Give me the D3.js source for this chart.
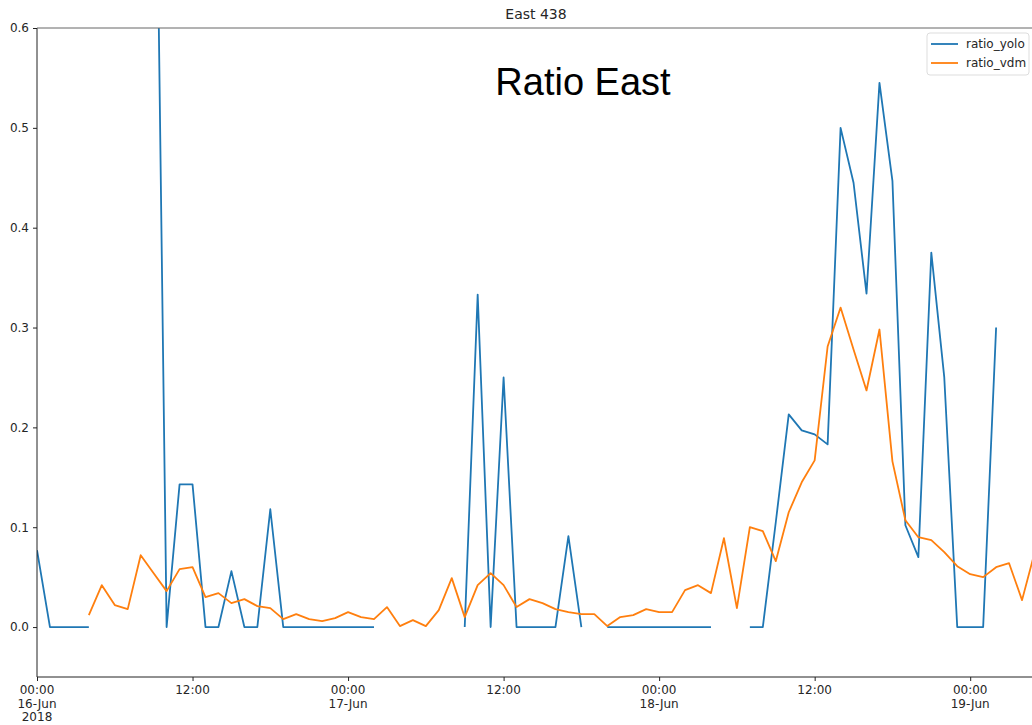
<!DOCTYPE html>
<html>
<head>
<meta charset="utf-8">
<script src="https://cdn.jsdelivr.net/npm/d3@7"></script>
<style>
  body { margin: 0; background: #fff; }
  text { font-family: "DejaVu Sans", sans-serif; }
</style>
</head>
<body>
<div id="chart"></div>
<script>
// hourly samples starting 16-Jun-2018 00:00, null = gap in the line
var startTime = new Date(2018, 5, 16, 0, 0);
var nHours = 78;

var ratioYolo = [
  0.077, 0, 0, 0, 0, null, null, null, null, 1.0,
  0, 0.143, 0.143, 0, 0, 0.056, 0, 0, 0.118, 0,
  0, 0, 0, 0, 0, 0, 0, null, null, null,
  null, null, null, 0, 0.333, 0, 0.25, 0, 0, 0,
  0, 0.091, 0, null, 0, 0, 0, 0, 0, 0,
  0, 0, 0, null, null, 0, 0, 0.105, 0.213, 0.197,
  0.193, 0.183, 0.5, 0.445, 0.334, 0.545, 0.447, 0.102, 0.070, 0.375,
  0.25, 0, 0, 0, 0.3, null, null, null
];

var ratioVdm = [
  null, null, null, null, 0.012, 0.042, 0.022, 0.018, 0.072, 0.054,
  0.036, 0.058, 0.060, 0.030, 0.034, 0.024, 0.028, 0.021, 0.019, 0.008,
  0.013, 0.008, 0.006, 0.009, 0.015, 0.010, 0.008, 0.020, 0.001, 0.007,
  0.001, 0.017, 0.049, 0.010, 0.042, 0.054, 0.042, 0.020, 0.028, 0.024,
  0.018, 0.015, 0.013, 0.013, 0.001, 0.010, 0.012, 0.018, 0.015, 0.015,
  0.037, 0.042, 0.034, 0.089, 0.019, 0.100, 0.096, 0.066, 0.115, 0.145,
  0.167, 0.281, 0.320, 0.278, 0.237, 0.298, 0.166, 0.107, 0.090, 0.087,
  0.075, 0.061, 0.053, 0.050, 0.060, 0.064, 0.027, 0.076
];

var yTicks = [0.0, 0.1, 0.2, 0.3, 0.4, 0.5, 0.6];
var seriesNames = ["ratio_yolo", "ratio_vdm"];
var colors = ["#1f77b4", "#ff7f0e"];

var times = d3.range(nHours).map(function(h) { return d3.timeHour.offset(startTime, h); });

var margin = {top: 28, left: 37},
    width = 998, height = 649;

var svg = d3.select("#chart")
  .append("svg")
    .attr("width", 1032)
    .attr("height", 725);

var g = svg.append("g")
    .attr("transform", "translate(" + margin.left + "," + margin.top + ")");

var x = d3.scaleTime()
    .domain([times[0], times[nHours - 1]])
    .range([0, width]);

var y = d3.scaleLinear()
    .domain([-0.05, 0.6])
    .range([height, 0]);

g.append("clipPath").attr("id", "clip")
  .append("rect").attr("width", width).attr("height", height);

var line = d3.line()
    .defined(function(d) { return d[1] != null; })
    .x(function(d) { return x(d[0]); })
    .y(function(d) { return y(d[1]); });

[ratioYolo, ratioVdm].forEach(function(vals, i) {
  g.append("path")
    .datum(times.map(function(t, k) { return [t, vals[k]]; }))
    .attr("clip-path", "url(#clip)")
    .attr("fill", "none")
    .attr("stroke", colors[i])
    .attr("stroke-width", 1.8)
    .attr("stroke-linejoin", "round")
    .attr("d", line);
});

// axes
var yAxis = g.append("g")
    .call(d3.axisLeft(y).tickValues(yTicks).tickFormat(d3.format(".1f")).tickSize(4).tickPadding(4));

var xTickVals = d3.range(0, nHours, 12).map(function(h) { return times[h]; });
var xAxis = g.append("g")
    .attr("transform", "translate(0," + height + ")")
    .call(d3.axisBottom(x).tickValues(xTickVals).tickFormat("").tickSize(4));

[yAxis, xAxis].forEach(function(a) {
  a.select(".domain").remove();
  a.selectAll("line").attr("stroke", "#222");
  a.selectAll("text").attr("fill", "#262626").style("font-size", "12px");
});

// multi-line date labels like pandas
xTickVals.forEach(function(t, i) {
  var lines = [d3.timeFormat("%H:%M")(t)];
  if (t.getHours() === 0) lines.push(d3.timeFormat("%d-%b")(t));
  if (i === 0) lines.push("2018");
  var txt = xAxis.append("text")
      .attr("x", x(t))
      .attr("y", 17)
      .attr("text-anchor", "middle")
      .attr("fill", "#262626")
      .style("font-size", "12px");
  lines.forEach(function(s, j) {
    txt.append("tspan").attr("x", x(t)).attr("dy", j === 0 ? 0 : 13.5).text(s);
  });
});

// spines
g.append("line").attr("x1", 0).attr("x2", 0).attr("y1", 0).attr("y2", height)
  .attr("stroke", "#222").attr("stroke-width", 1);
g.append("line").attr("x1", 0).attr("x2", width).attr("y1", height).attr("y2", height)
  .attr("stroke", "#222").attr("stroke-width", 1);
g.append("line").attr("x1", 0).attr("x2", width).attr("y1", 0).attr("y2", 0)
  .attr("stroke", "#666").attr("stroke-width", 1);

// title
svg.append("text")
    .attr("x", margin.left + width / 2)
    .attr("y", 19)
    .attr("text-anchor", "middle")
    .attr("fill", "#262626")
    .style("font-size", "14px")
    .text("East 438");

svg.append("text")
    .attr("x", 583)
    .attr("y", 95)
    .attr("text-anchor", "middle")
    .attr("fill", "#000")
    .style("font-family", "'Liberation Sans', Arial, sans-serif")
    .style("font-size", "38px")
    .text("Ratio East");

// legend
var leg = svg.append("g").attr("transform", "translate(927,33)");
leg.append("rect")
    .attr("width", 102).attr("height", 42)
    .attr("rx", 3)
    .attr("fill", "#fff").attr("fill-opacity", 0.8)
    .attr("stroke", "#ddd");
seriesNames.forEach(function(name, i) {
  var yy = 11 + i * 19;
  leg.append("line")
    .attr("x1", 4).attr("x2", 31).attr("y1", yy).attr("y2", yy)
    .attr("stroke", colors[i]).attr("stroke-width", 1.8);
  leg.append("text")
    .attr("x", 39).attr("y", yy + 4)
    .attr("fill", "#262626")
    .style("font-size", "12px")
    .text(name);
});
</script>
</body>
</html>
